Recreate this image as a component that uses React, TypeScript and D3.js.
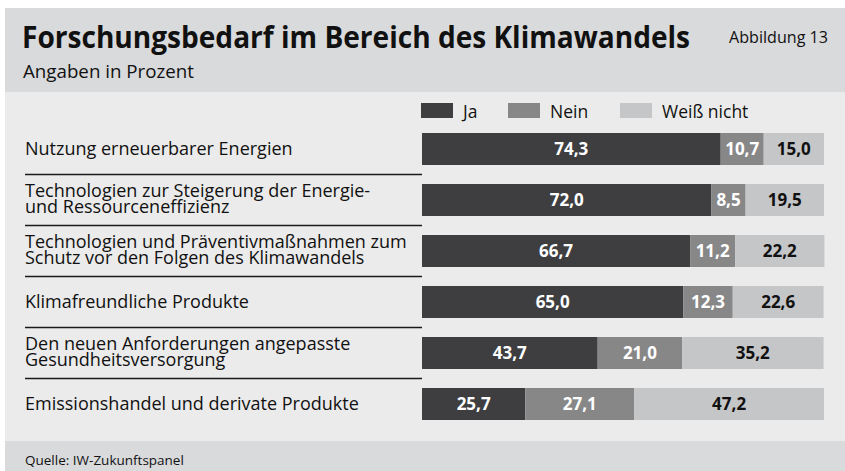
import React from "react";
import * as d3 from "d3";

const categories = [
  "Nutzung erneuerbarer Energien",
  "Technologien zur Steigerung der Energie-|und Ressourceneffizienz",
  "Technologien und Präventivmaßnahmen zum|Schutz vor den Folgen des Klimawandels",
  "Klimafreundliche Produkte",
  "Den neuen Anforderungen angepasste|Gesundheitsversorgung",
  "Emissionshandel und derivate Produkte",
];
const ja = [74.3, 72.0, 66.7, 65.0, 43.7, 25.7];
const nein = [10.7, 8.5, 11.2, 12.3, 21.0, 27.1];
const weissNicht = [15.0, 19.5, 22.2, 22.6, 35.2, 47.2];
const seriesNames = ["Ja", "Nein", "Weiß nicht"];

const W = 845;
const H = 471;
const FONT = "'Open Sans', 'Noto Sans', sans-serif";
const colors = ["#3e3e41", "#878788", "#c5c6c8"];
const textColors = ["#ffffff", "#ffffff", "#111111"];

export default function App() {
  const series = [ja, nein, weissNicht];
  const x = d3.scaleLinear().domain([0, 100]).range([422, 824]);
  const y = d3
    .scaleBand<string>()
    .domain(categories)
    .range([133, 420])
    .paddingInner(19 / 51)
    .paddingOuter(0);
  const bw = y.bandwidth();
  const fmt = (v: number) => d3.format(".1f")(v).replace(".", ",");

  const rows = categories.map((c, i) => {
    let acc = 0;
    const segs = series.map((s, k) => {
      const x0 = acc;
      acc += s[i];
      return { k, v: s[i], x0, x1: acc };
    });
    return { c, i, segs };
  });

  const legendX = [421, 508, 620];

  return (
    <div style={{ position: "absolute", left: 0, top: 0 }}>
      <svg width={W} height={H} style={{ display: "block" }}>
        <rect x={0} y={0} width={W} height={H} fill="#ffffff" />
        <rect x={5} y={8} width={W - 5} height={84} fill="#d9dadc" />
        <rect x={5} y={92} width={W - 5} height={349} fill="#ebebeb" />
        <rect x={5} y={441} width={W - 5} height={30} fill="#d9dadc" />

        <text
          x={22}
          y={48}
          fontFamily={FONT}
          fontWeight={700}
          fontSize={31}
          fill="#111"
          textLength={668}
          lengthAdjust="spacingAndGlyphs"
        >
          Forschungsbedarf im Bereich des Klimawandels
        </text>
        <text
          x={729}
          y={43}
          fontFamily={FONT}
          fontSize={15.5}
          fill="#111"
          textLength={99}
          lengthAdjust="spacingAndGlyphs"
        >
          Abbildung 13
        </text>
        <text
          x={23}
          y={78}
          fontFamily={FONT}
          fontSize={17.5}
          fill="#111"
          textLength={171}
          lengthAdjust="spacingAndGlyphs"
        >
          Angaben in Prozent
        </text>

        {seriesNames.map((n, k) => (
          <g key={n}>
            <rect x={legendX[k]} y={103} width={32} height={15} fill={colors[k]} />
            <text x={legendX[k] + 42} y={118} fontFamily={FONT} fontSize={17.5} fill="#111">
              {n}
            </text>
          </g>
        ))}

        {rows.map((r) => {
          const y0 = y(r.c)!;
          const cy = y0 + bw / 2;
          const lines = r.c.split("|");
          return (
            <g key={r.c}>
              {lines.length === 1 ? (
                <text x={25} y={cy + 6} fontFamily={FONT} fontSize={18} fill="#111">
                  {lines[0]}
                </text>
              ) : (
                lines.map((l, j) => (
                  <text
                    key={j}
                    x={25}
                    y={cy - 3.5 + j * 16}
                    fontFamily={FONT}
                    fontSize={18}
                    fill="#111"
                  >
                    {l}
                  </text>
                ))
              )}
              {r.i < categories.length - 1 && (
                <line
                  x1={25}
                  x2={422}
                  y1={y0 + bw + 9.5}
                  y2={y0 + bw + 9.5}
                  stroke="#1a1a1a"
                  strokeWidth={1.4}
                />
              )}
              {r.segs.map((s) => (
                <g key={s.k}>
                  <rect
                    x={x(s.x0)}
                    y={y0}
                    width={x(s.x1) - x(s.x0)}
                    height={bw}
                    fill={colors[s.k]}
                  />
                  <text
                    x={(x(s.x0) + x(s.x1)) / 2}
                    y={cy + 5.5}
                    textAnchor="middle"
                    fontFamily={FONT}
                    fontWeight={700}
                    fontSize={17}
                    fill={textColors[s.k]}
                  >
                    {fmt(s.v)}
                  </text>
                </g>
              ))}
            </g>
          );
        })}

        <text x={25} y={465} fontFamily={FONT} fontSize={13.5} fill="#111">
          Quelle: IW-Zukunftspanel
        </text>
      </svg>
    </div>
  );
}
